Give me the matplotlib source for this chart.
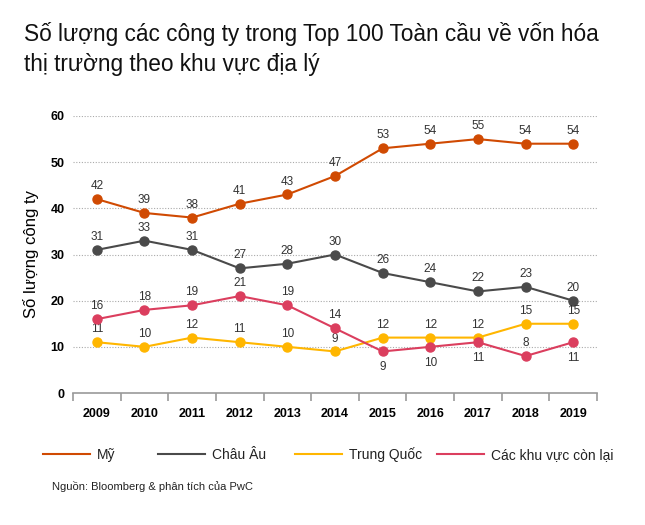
import matplotlib
matplotlib.use("Agg")
import matplotlib.pyplot as plt
from matplotlib.lines import Line2D

plt.rcParams['font.family'] = ['Liberation Sans', 'DejaVu Sans']

years = [2009, 2010, 2011, 2012, 2013, 2014, 2015, 2016, 2017, 2018, 2019]
my = [42, 39, 38, 41, 43, 47, 53, 54, 55, 54, 54]
chau_au = [31, 33, 31, 27, 28, 30, 26, 24, 22, 23, 20]
trung_quoc = [11, 10, 12, 11, 10, 9, 12, 12, 12, 15, 15]
con_lai = [16, 18, 19, 21, 19, 14, 9, 10, 11, 8, 11]

names = ['Mỹ', 'Châu Âu', 'Trung Quốc', 'Các khu vực còn lại']
colors = ['#D04A02', '#4A4A4A', '#FFB600', '#DB3E5E']
series = [my, chau_au, trung_quoc, con_lai]
# label below the point? (only for the last group in 2015-2017 and 2019)
below = [
    [False] * 11,
    [False] * 11,
    [False] * 11,
    [False] * 6 + [True, True, True, False, True],
]

W, H = 645, 525
fig = plt.figure(figsize=(6.45, 5.25), dpi=100)
ax = fig.add_axes([73 / W, 1 - 393 / H, 524 / W, 277 / H])

for vals, c, bl in zip(series, colors, below):
    ax.plot(years, vals, color=c, lw=1.5, marker='o', ms=6.5, zorder=3)
    for x, y, b in zip(years, vals, bl):
        if b:
            ax.annotate(str(y), (x, y), xytext=(0, -7), textcoords='offset points',
                        ha='center', va='top', fontsize=8.5, color='#333333')
        else:
            ax.annotate(str(y), (x, y), xytext=(0, 5), textcoords='offset points',
                        ha='center', va='bottom', fontsize=8.5, color='#333333')

ax.set_xlim(2008.5, 2019.5)
ax.set_ylim(0, 60)
ax.set_yticks(range(0, 61, 10))
for yv in range(10, 61, 10):
    ax.axhline(yv, color='#AAAAAA', lw=0.8, ls=(0, (1, 1.5)), zorder=1)

for s in ['top', 'right', 'left']:
    ax.spines[s].set_visible(False)
ax.spines['bottom'].set_color('#999999')
ax.spines['bottom'].set_linewidth(1.2)

ax.set_xticks(years)
ax.set_xticklabels([str(y) for y in years], fontweight='bold', fontsize=9)
ax.set_xticks([y - 0.5 for y in years] + [2019.5], minor=True)
ax.tick_params(axis='x', which='major', length=0, pad=11)
ax.tick_params(axis='x', which='minor', length=6, color='#999999', width=1.2)
ax.tick_params(axis='y', length=0, pad=6, labelsize=9)
for t in ax.get_yticklabels():
    t.set_fontweight('bold')

ax.set_ylabel('Số lượng công ty', fontsize=12, labelpad=8)

fig.text(24 / W, 1 - 49 / H, 'Số lượng các công ty trong Top 100 Toàn cầu về vốn hóa\nthị trường theo khu vực địa lý',
         fontsize=16.3, ha='left', va='center', linespacing=1.4, color='#111111')

# legend laid out like the reference
leg_x = [43, 158, 295, 437]
for name, c, x0 in zip(names, colors, leg_x):
    fig.add_artist(Line2D([x0 / W, (x0 + 47) / W], [1 - 454 / H] * 2, color=c, lw=1.5,
                          transform=fig.transFigure))
    fig.text((x0 + 54) / W, 1 - 459 / H, name, fontsize=10, ha='left', va='baseline',
             color='#222222')

fig.text(52 / W, 1 - 487 / H, 'Nguồn: Bloomberg & phân tích của PwC', fontsize=8,
         ha='left', va='center', color='#222222')

fig.savefig('out.png', dpi=100)
